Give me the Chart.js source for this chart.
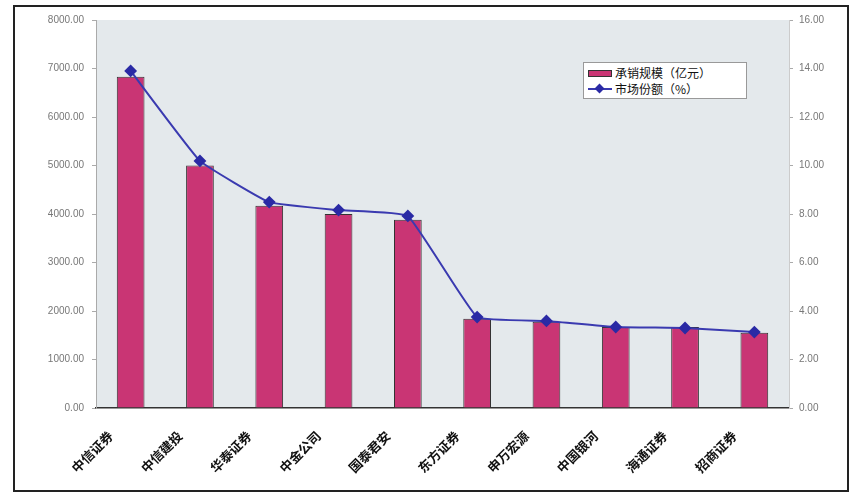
<!DOCTYPE html>
<html lang="zh">
<head>
  <meta charset="UTF-8">
  <title>承销规模与市场份额</title>
  <script src="https://cdn.jsdelivr.net/npm/chart.js"></script>
  <style>
    body {
      margin: 0;
      background: #fff;
      font-family: "Noto Sans CJK SC", sans-serif;
    }
    #wrap {
      position: relative;
      width: 851px;
      height: 494px;
    }
    #legendBox {
      position: absolute;
      left: 583px;
      top: 62px;
      width: 164px;
      height: 37px;
      background: #fff;
      border: 1px solid #999;
      font-size: 12px;
      color: #111;
      box-sizing: border-box;
      padding: 2px 0 0 4px;
      line-height: 16px;
    }
    .row { display: flex; align-items: center; white-space: nowrap; }
    .sw-bar {
      width: 24px; height: 7px;
      background: #c93574; border: 1px solid #333;
      margin-right: 3px; box-sizing: border-box;
    }
    .sw-line {
      position: relative; width: 24px; height: 2px;
      background: #3a3ab0; margin-right: 3px;
    }
    .sw-line::after {
      content: ""; position: absolute; left: 8px; top: -3px;
      width: 7px; height: 7px; background: #2a2aa5;
      transform: rotate(45deg);
    }
  </style>
</head>
<body>
  <div id="wrap">
    <canvas id="chart" width="851" height="494"></canvas>
    <div id="legendBox">
      <div class="row"><span class="sw-bar"></span>承销规模（亿元）</div>
      <div class="row"><span class="sw-line"></span>市场份额（%）</div>
    </div>
  </div>

  <script>
    const categories = ["中信证券", "中信建投", "华泰证券", "中金公司", "国泰君安",
                        "东方证券", "申万宏源", "中国银河", "海通证券", "招商证券"];
    const scaleValues = [6830, 5000, 4170, 4000, 3880, 1840, 1780, 1670, 1670, 1550];
    const shareValues = [13.90, 10.19, 8.49, 8.16, 7.92, 3.75, 3.59, 3.34, 3.30, 3.13];

    const frame = {
      id: "frame",
      beforeDraw(chart) {
        const c = chart.ctx;
        const a = chart.chartArea;
        c.save();
        c.fillStyle = "#fff";
        c.fillRect(0, 0, chart.width, chart.height);
        c.fillStyle = "#e4e9ec";
        c.fillRect(a.left, a.top, a.right - a.left, a.bottom - a.top);
        c.restore();
      },
      afterDraw(chart) {
        const c = chart.ctx;
        c.save();
        c.strokeStyle = "#222";
        c.lineWidth = 2;
        c.strokeRect(14, 6, 834, 485);
        c.restore();
      }
    };

    new Chart(document.getElementById("chart"), {
      data: {
        labels: categories,
        datasets: [
          {
            type: "line",
            label: "市场份额（%）",
            data: shareValues,
            yAxisID: "y2",
            order: 0,
            borderColor: "#3a3ab0",
            borderWidth: 2,
            tension: 0.1,
            pointStyle: "rectRot",
            pointRadius: 5,
            pointBackgroundColor: "#2a2aa5",
            pointBorderColor: "#2a2aa5"
          },
          {
            type: "bar",
            label: "承销规模（亿元）",
            data: scaleValues,
            yAxisID: "y",
            order: 1,
            backgroundColor: "#c93574",
            borderColor: "#333",
            borderWidth: 1,
            barPercentage: 0.4,
            categoryPercentage: 1.0
          }
        ]
      },
      options: {
        responsive: false,
        animation: false,
        layout: { padding: { top: 20, left: 0, right: 0, bottom: 0 } },
        plugins: {
          legend: { display: false },
          tooltip: { enabled: false }
        },
        scales: {
          x: {
            offset: true,
            grid: { display: false },
            border: { color: "#333", width: 1.5 },
            ticks: {
              minRotation: 45,
              maxRotation: 45,
              labelOffset: -20,
              padding: 12,
              color: "#111",
              font: { family: "Noto Sans CJK SC", size: 13, weight: "bold" }
            },
            afterFit(s) { s.height = 86; }
          },
          y: {
            position: "left",
            min: 0,
            max: 8000,
            ticks: {
              stepSize: 1000,
              color: "#777",
              padding: 8,
              font: { family: "Liberation Sans", size: 10 },
              callback: v => v.toFixed(2)
            },
            grid: { drawOnChartArea: false, tickLength: 4, color: "#aaa" },
            border: { color: "#aaa" },
            afterFit(s) { s.width = 96; }
          },
          y2: {
            position: "right",
            min: 0,
            max: 16,
            ticks: {
              stepSize: 2,
              color: "#777",
              padding: 6,
              font: { family: "Liberation Sans", size: 10 },
              callback: v => v.toFixed(2)
            },
            grid: { drawOnChartArea: false, tickLength: 4, color: "#aaa" },
            border: { color: "#ccc" },
            afterFit(s) { s.width = 62; }
          }
        }
      },
      plugins: [frame]
    });
  </script>
</body>
</html>
